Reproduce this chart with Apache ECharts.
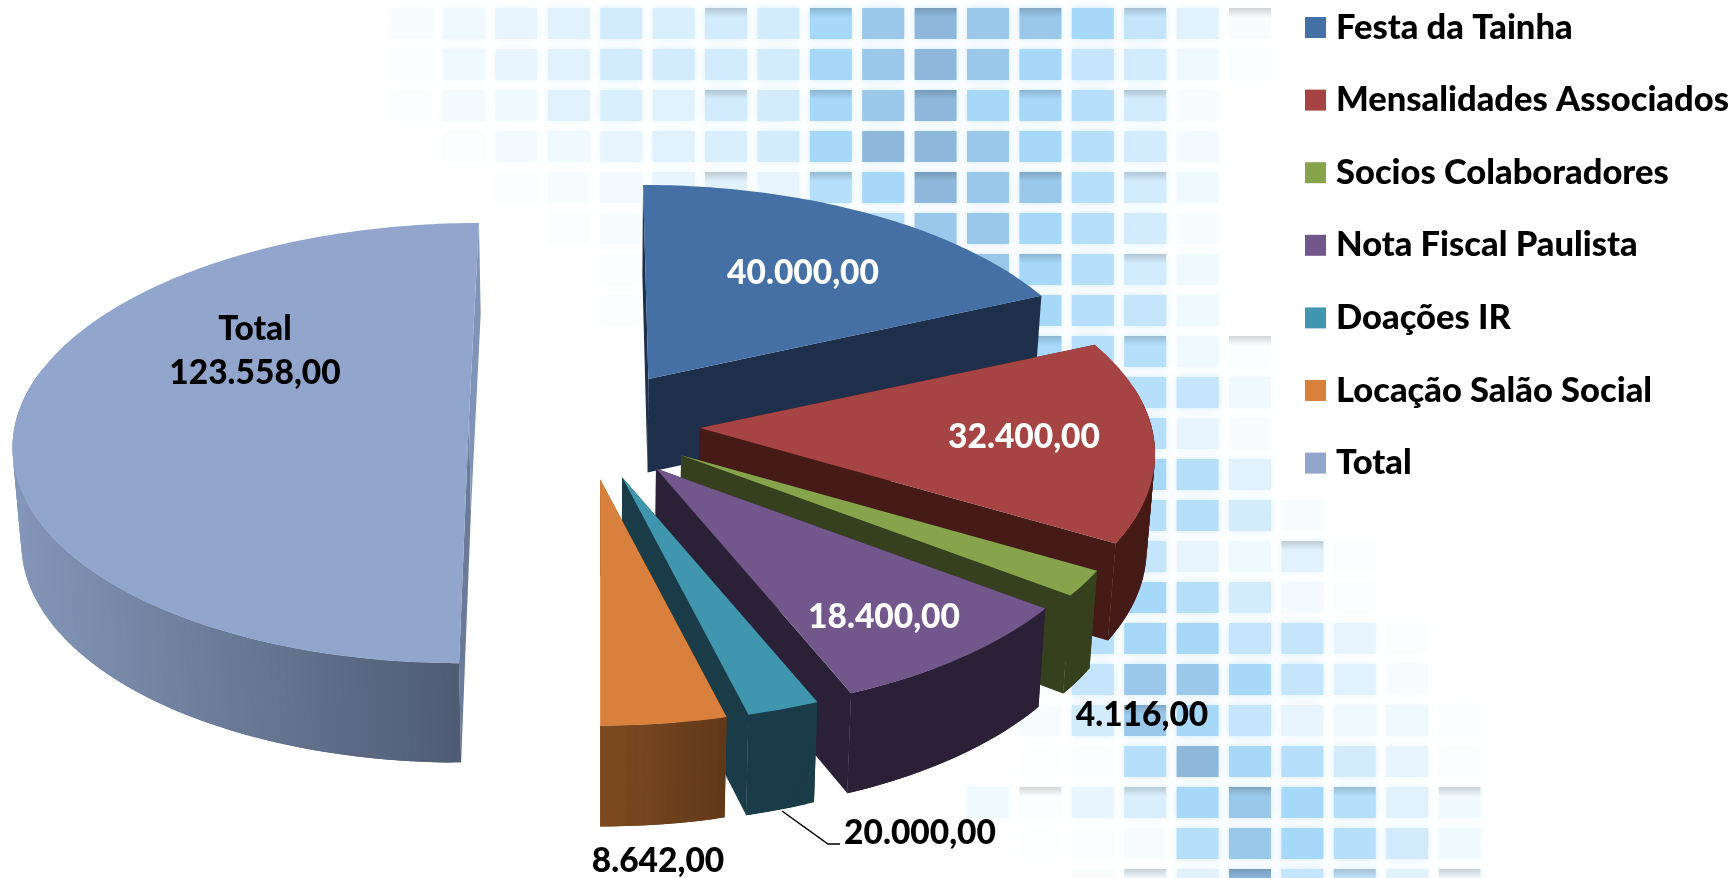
<!DOCTYPE html>
<html><head><meta charset="utf-8">
<style>html,body{margin:0;padding:0;background:#fff}#c{width:1734px;height:878px}</style>
<script src="https://cdn.jsdelivr.net/npm/echarts@6/dist/echarts.min.js"></script>
</head><body><div id="c"></div>
<script>
// ---- data ----
const categories = ['Festa da Tainha','Mensalidades Associados','Socios Colaboradores','Nota Fiscal Paulista','Doações IR','Locação Salão Social','Total'];
// value that sets each slice's sweep as drawn in the picture
const plottedValues = [40000,32400,4116,18400,5000,8642,108558];
// value text printed on each slice
const valueLabels = ['40.000,00','32.400,00','4.116,00','18.400,00','20.000,00','8.642,00','Total\n123.558,00'];
const tileShades = [
[.5,1,1.5,2,3,2.5,3,3,6,7,8,7,7,6,4,2,.5,0,0,0,0],
[.3,1,1.5,2,3,3,3,3,6,7,8,7,6,4,3,1,.3,0,0,0,0],
[.3,.7,1,2,2.5,2,3,3,6,7,8,6,6,5,3,.5,0,0,0,0,0],
[0,.3,.7,1,1.5,2,2.5,3,6,8,8,7,6,5,3,.7,0,0,0,0,0],
[0,0,.3,.5,.7,1.5,2,1.5,5,6,8,7,7,5,3,1,0,0,0,0,0],
[0,0,0,.3,.5,.5,1,1,3,5,7,7,6,5,3,.5,0,0,0,0,0],
[0,0,0,0,.3,.5,.5,1,3,5,7,7,6,5,3,1,0,0,0,0,0],
[0,0,0,0,.3,.3,.3,1,3,5,6,6,6,5,4,1,0,0,0,0,0],
[0,0,0,0,0,.3,.3,1,3,4,6,6,6,5,5,1,.3,0,0,0,0],
[0,0,0,0,0,0,.3,.5,2,3,5,5,6,5,5,4,1,0,0,0,0],
[0,0,0,0,0,0,0,.3,.5,1,3,4,5,5,5,1.5,.5,0,0,0,0],
[0,0,0,0,0,0,0,0,.3,.5,2,3,4,5,6,5,2,0,0,0,0],
[0,0,0,0,0,0,0,0,0,.3,1,2,3,5,5,5,3,.5,0,0,0],
[0,0,0,0,0,0,0,0,0,0,.5,1,2,4,4,1.5,1,2,.3,0,0],
[0,0,0,0,0,0,0,0,0,0,.3,.5,2,5,6,5,3,.7,.3,0,0],
[0,0,0,0,0,0,0,0,0,0,0,.3,3,5,6,6,4,4,1.5,.3,0],
[0,0,0,0,0,0,0,0,0,0,0,.2,.3,4,7,7,6,4,2,.5,0],
[0,0,0,0,0,0,0,0,0,0,0,.2,.5,3,7,6,4,1.5,1,1,.3],
[0,0,0,0,0,0,0,0,0,0,0,0,.2,.3,5,8,6,5,3,1.5,.3],
[0,0,0,0,0,0,0,0,0,0,0,1,.3,1.5,2.5,6,7,6,5,2,1],
[0,0,0,0,0,0,0,0,0,0,0,0,.2,.3,.5,5,7,6,5,3,1],
[0,0,0,0,0,0,0,0,0,0,0,0,0,.5,1,2,8,4,4,2,1]
];

// ---- styling and layout ----
const topColors  = ['#4570A5','#A64343','#87A34B','#72578C','#4095AF','#D9803C','#92A6CD'];
const sideColors = ['#1D2F4A','#451A17','#37401E','#2B2137','#193C48','#6E411C','#6B7A99'];
const sideRamps  = {5:[[124,74,32],[98,57,24]], 6:[[132,150,185],[80,92,116]]};
const labelSpots = [[803,273,'#fff'],[1024,437,'#fff'],[1142,715,'#000'],[884,617,'#fff'],[920,833,'#000'],[658,861,'#000'],[255,351,'#000']];
const pie = {cx:586, cy:425, ex:114, exLeft:117, ey:55, a:217, b:452, p:0.1184, tilt:0.085, shrink:0.985};
const FONT = 'Lato, "Noto Sans", sans-serif';
const total = plottedValues.reduce((s,v)=>s+v,0);
const ang = v => v/total*2*Math.PI;

function rim(ap, t){
  const u=Math.cos(t), s=Math.sin(t), k=1+pie.p*u;
  const lean=ap[1]<pie.cy-5?(ap[0]-pie.cx)*pie.tilt*u:0;
  return [ap[0]+pie.b*s/k-lean, ap[1]-pie.a*u/k];
}
function down(pt){
  const d=90+(pt[1]-200)*0.0204;
  return [pie.cx+10+(pt[0]-pie.cx-10)*pie.shrink, pt[1]+d];
}
function poly(points, fill){
  return {type:'polygon', shape:{points}, style:{fill, stroke:null}};
}
function sliceRenderer(index){
  return function(params, api){
    let start=0;
    for(let i=0;i<index;i++) start+=ang(plottedValues[i]);
    const sweep=ang(api.value(0)), mid=start+sweep/2, sm=Math.sin(mid);
    const ap=[pie.cx+(sm<0?pie.exLeft:pie.ex)*sm, pie.cy-pie.ey*Math.cos(mid)+Math.min(0,sm)*8];
    const arc=[], ts=[], N=Math.max(8,Math.round(sweep*60));
    for(let i=0;i<=N;i++){ ts.push(start+sweep*i/N); arc.push(rim(ap,ts[i])); }
    const low=arc.map(down);
    const solid=sideColors[index];
    const kids=[];
    kids.push(poly([ap,arc[0],low[0],down(ap)], solid));
    kids.push(poly([ap,arc[N],low[N],down(ap)], index===6?'#7F94B8':solid));
    const seen=[];
    for(let i=0;i<N;i++) if(Math.cos(ts[i])<0.2) seen.push(i);
    const xs=seen.map(i=>arc[i][0]), x0=Math.min.apply(null,xs), x1=Math.max.apply(null,xs);
    seen.forEach(i=>{
      let fill=solid;
      const ramp=sideRamps[index];
      if(ramp){
        const f=Math.min(1,Math.max(0,(arc[i][0]-x0)/(x1-x0)));
        fill='rgb('+ramp[0].map((c,j)=>Math.round(c+(ramp[1][j]-c)*f)).join(',')+')';
      }
      const j=Math.min(i+2,N);
      kids.push(poly([arc[i],arc[j],low[j],low[i]], fill));
    });
    kids.push(poly([ap].concat(arc), topColors[index]));
    const sp=labelSpots[index];
    kids.push({type:'text',z2:5,style:{x:sp[0],y:sp[1],text:valueLabels[index],fill:sp[2],
      font:'900 33.5px '+FONT,align:'center',verticalAlign:'middle',lineHeight:44}});
    if(index===4){
      kids.push({type:'polyline',z2:5,shape:{points:[[782,811],[828,844],[840,844]]},style:{stroke:'#000',lineWidth:1.5,fill:null}});
    }
    return {type:'group',children:kids};
  };
}

const tileData=[];
tileShades.forEach((row,r)=>row.forEach((v,c)=>{ if(v>0) tileData.push([c,r,v]); }));
function tileFill(v,r,c){
  const lerp=(a,b,t)=>Math.round(a+(b-a)*t);
  const base=[255,255,255], mid=[166,216,250], deep=[141,184,220];
  const C=v<=6?base.map((b,i)=>lerp(b,mid[i],v/6)):mid.map((b,i)=>lerp(b,deep[i],(v-6)/2));
  const col='rgb('+C.join(',')+')';
  const grey=(r<=8&&r%2===0&&c>=6&&c%2===0)||((r===19||r===21)&&c%2===0&&c>=11)||(r===17&&c===14)||(r===13&&c===17);
  if(!grey) return col;
  const G=C.map(x=>Math.round(x*0.84));
  return {type:'linear',x:0,y:0,x2:0,y2:0.3,colorStops:[{offset:0,color:'rgb('+G.join(',')+')'},{offset:1,color:col}]};
}
const series=[{
  type:'custom', name:'fundo', coordinateSystem:'none', silent:true, z:0, data:tileData,
  renderItem(p,api){
    const c=api.value(0), r=api.value(1), v=api.value(2);
    return {type:'rect',shape:{x:390.6+52.4*c,y:8+41*r,width:42,height:31},
      style:{fill:tileFill(v,r,c),shadowBlur:7,shadowColor:'rgba(205,235,255,'+Math.min(1,v/4)+')'}};
  }
}];
categories.forEach((name,i)=>series.push({
  type:'custom', name, coordinateSystem:'none', silent:true, z:2,
  itemStyle:{color:topColors[i]}, data:[[plottedValues[i]]], renderItem:sliceRenderer(i)
}));

const chart=echarts.init(document.getElementById('c'),null,{renderer:'canvas'});
chart.setOption({
  animation:false, backgroundColor:'#fff',
  legend:{
    orient:'vertical', left:1305, top:10, itemWidth:21, itemHeight:21, itemGap:37.6, selectedMode:false,
    icon:'rect', padding:0,
    data:categories.map((name,i)=>({name,itemStyle:{color:topColors[i]}})),
    textStyle:{fontFamily:FONT,fontWeight:900,fontSize:34.5,color:'#000',lineHeight:21,padding:[0,0,0,5]}
  },
  series
});
</script></body></html>
